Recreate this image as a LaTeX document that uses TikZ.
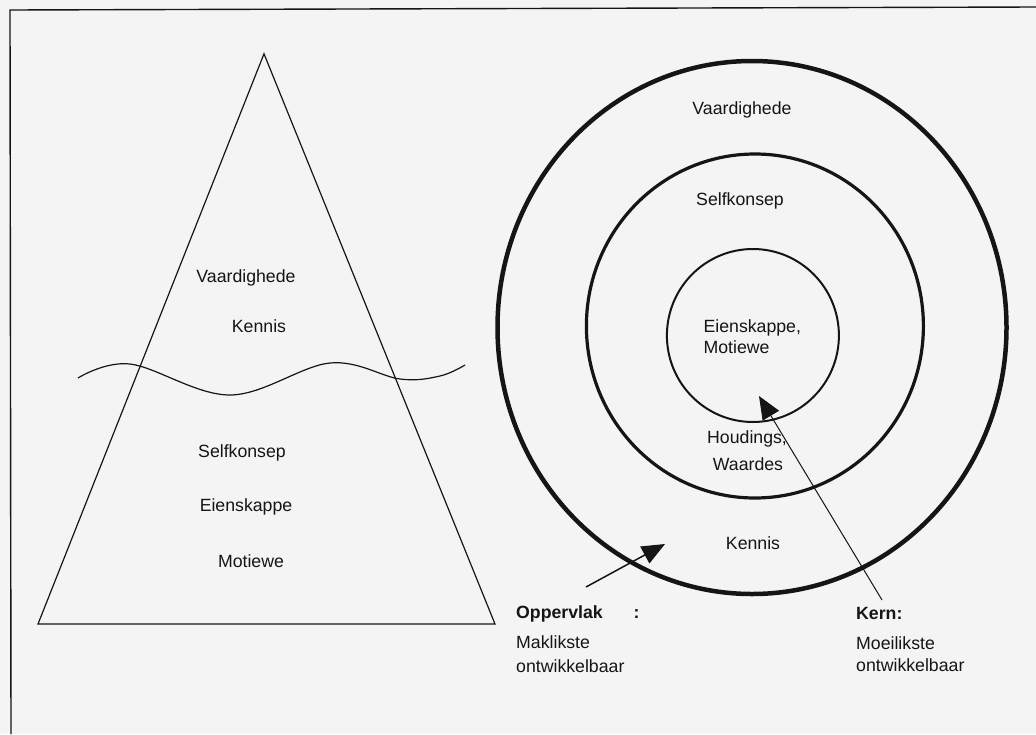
\documentclass[tikz,border=0pt]{standalone}
\usepackage{fontspec}
\setmainfont{Liberation Sans}
\usetikzlibrary{arrows.meta}
\definecolor{bg}{HTML}{F4F4F4}
\definecolor{ink}{HTML}{151515}
\begin{document}
\begin{tikzpicture}[x=1pt,y=-1pt,
  lbl/.style={inner sep=0pt, text=ink, font=\fontsize{17.7}{21}\selectfont},
  lblb/.style={lbl, font=\fontsize{17.7}{21}\selectfont\bfseries},
  ring/.style={draw=ink},
  arr/.style={draw=ink, -{Triangle[length=23pt,width=19pt]}}
]
\fill[bg] (0,0) rectangle (1036,734);
\useasboundingbox (0,0) rectangle (1036,734);
% frame
\draw[ink, line width=1.4pt] (11,734) -- (10,10) -- (1036,7);
% triangle
\coordinate (apex) at (264,53.8);
\coordinate (bl) at (38,624);
\coordinate (br) at (495,624);
\draw[ink, line width=1.2pt, line join=miter] (apex) -- (br) -- (bl) -- cycle;
% wave
\draw[ink, line width=1.2pt] plot[smooth, tension=0.6] coordinates {(78,378) (130,364) (230,395) (330,363) (400,379) (440,376) (465,365)};
% triangle texts
\node[lbl, anchor=base] (tv) at (246,282.5) {Vaardighede};
\node[lbl, anchor=base] (tk) at (259,332.5) {Kennis};
\node[lbl, anchor=base] (ts) at (242,457.5) {Selfkonsep};
\node[lbl, anchor=base] (te) at (246,511.5) {Eienskappe};
\node[lbl, anchor=base] (tm) at (251,567.5) {Motiewe};
% rings
\draw[ring, line width=4.5pt] (752,327.5) ellipse [x radius=254.5pt, y radius=266.5pt];
\draw[ring, line width=3.2pt] (754.9,326) ellipse [x radius=168.5pt, y radius=172pt];
\draw[ring, line width=2pt] (752.9,335.5) ellipse [x radius=86pt, y radius=86.5pt];
% ring texts
\node[lbl, anchor=base] (cv) at (742,114) {Vaardighede};
\node[lbl, anchor=base] (cs) at (740,205) {Selfkonsep};
\node[lbl, anchor=base west] (ce) at (703.4,332.5) {Eienskappe,};
\node[lbl, anchor=base west] (cm) at (703.4,353.5) {Motiewe};
\node[lbl, anchor=base west] (ch) at (707,443.5) {Houdings,};
\node[lbl, anchor=base] (cw) at (748,470) {Waardes};
\node[lbl, anchor=base] (ck) at (753,549) {Kennis};
% labels
\node[lblb, anchor=base west] (op) at (516,618.5) {Oppervlak};
\node[lblb, anchor=base] (colon) at (636.5,618.5) {:};
\node[lbl, anchor=base west] (mk) at (516,648) {Maklikste};
\node[lbl, anchor=base west] (o1) at (516,672) {ontwikkelbaar};
\node[lblb, anchor=base west] (kern) at (856,619) {Kern:};
\node[lbl, anchor=base west] (mo) at (856,649) {Moeilikste};
\node[lbl, anchor=base west] (o2) at (856,671) {ontwikkelbaar};
% arrows
\coordinate (a1s) at (586,587);
\coordinate (a1t) at (665,544);
\coordinate (a2s) at (882,600);
\coordinate (a2t) at (759,396);
\draw[arr, line width=1.5pt] (a1s) -- (a1t);
\draw[arr, line width=1pt] (a2s) -- (a2t);
\end{tikzpicture}
\end{document}
